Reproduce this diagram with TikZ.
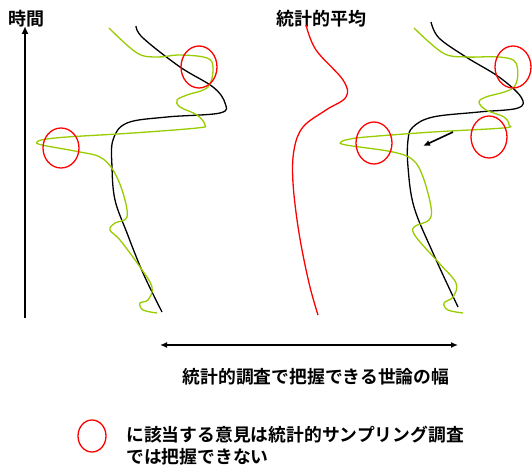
\documentclass[tikz,border=0pt]{standalone}
\usepackage{fontspec}
\newfontfamily\cjk{Noto Sans CJK JP}[BoldFont={Noto Sans CJK JP Bold}]
\usetikzlibrary{arrows.meta}
\definecolor{lgreen}{HTML}{99CC00}
\tikzset{
  lbl/.style={font=\cjk\bfseries\fontsize{17.8}{21}\selectfont, inner sep=0pt},
  ttl/.style={font=\cjk\bfseries\fontsize{18}{21}\selectfont, inner sep=0pt},
  blk/.style={black, line width=1.3pt},
  grn/.style={lgreen, line width=1.3pt},
  rcurve/.style={red, line width=1.3pt},
  rcirc/.style={draw=red, line width=1.3pt},
}
\begin{document}
\begin{tikzpicture}[x=1pt,y=-1pt]
\useasboundingbox (0,0) rectangle (532,470);
% time axis
\coordinate (tb) at (25,318);
\coordinate (tt) at (25,26);
\draw[line width=1.8pt,-{Latex[length=8pt,width=7pt]}] (tb) -- (tt);
\node[ttl] (time) at (27,19) {時間};
% left panel black
\draw[blk] plot[smooth,tension=0.6] coordinates {(136,26) (143,38) (180,67) (213,87) (225,103) (220,113) (167,117) (127,123) (113,140) (112,167) (115,200) (127,233) (143,273) (162,312)};
% left panel green
\draw[grn] plot[smooth,tension=0.6] coordinates {(109,28) (137,53) (157,57) (180,55) (207,58) (213,68) (208,87) (187,95) (177,100) (180,107) (197,115) (205,125) (197,128) (133,133) (67,137) (44,139.5) (37,142) (42,145) (80,152) (100,157) (113,170) (123,193) (127,217) (115,223) (110,230) (120,240) (140,267) (152,287) (148,300) (140,303) (143,310) (157,313)};
% left circles
\draw[rcirc] (199,67) ellipse [x radius=18, y radius=21];
\draw[rcirc] (61,148) ellipse [x radius=18, y radius=20];
% middle
\node[ttl] (avg) at (321,19) {統計的平均};
\draw[rcurve] plot[smooth,tension=0.6] coordinates {(306,25) (316,50) (343,80) (346,97) (326,110) (303,127) (294,150) (293,183) (299,233) (309,283) (318,315)};
% right panel black
\draw[blk] plot[smooth,tension=0.6] coordinates {(431,22) (439,38) (466,57) (499,77) (521,97) (518,108) (479,112) (433,117) (413,127) (408,140) (408,167) (414,207) (433,253) (458,307)};
% right panel green
\draw[grn] plot[smooth,tension=0.6] coordinates {(414,28) (443,53) (466,57) (499,57) (516,63) (514,87) (486,97) (479,102) (486,110) (504,117) (509,125) (503,128) (433,132) (366,137) (348,139.5) (341,142) (346,145) (393,152) (413,160) (423,177) (431,207) (429,220) (414,227) (416,237) (439,263) (456,283) (453,297) (444,303) (448,310) (463,313)};
% right circles
\draw[rcirc] (374,143) ellipse [x radius=18, y radius=21];
\draw[rcirc] (513,67) ellipse [x radius=18, y radius=21];
\draw[rcirc] (489,137) ellipse [x radius=18, y radius=21];
% shift arrow
\coordinate (sa) at (453,132);
\coordinate (sb) at (423,146);
\draw[line width=1.6pt,-{Latex[length=7pt,width=6pt]}] (sa) -- (sb);
% width arrow
\coordinate (wl) at (160,345);
\coordinate (wr) at (458,345);
\draw[line width=1.3pt,{Latex[length=7pt,width=6pt]}-{Latex[length=7pt,width=6pt]}] (wl) -- (wr);
\node[lbl] (wlabel) at (316,377) {統計的調査で把握できる世論の幅};
% legend
\draw[rcirc] (92,436) ellipse [x radius=14, y radius=16];
\node[lbl,anchor=west] (leg1) at (126,435) {に該当する意見は統計的サンプリング調査};
\node[lbl,anchor=west] (leg2) at (126,457) {では把握できない};
\end{tikzpicture}
\end{document}
